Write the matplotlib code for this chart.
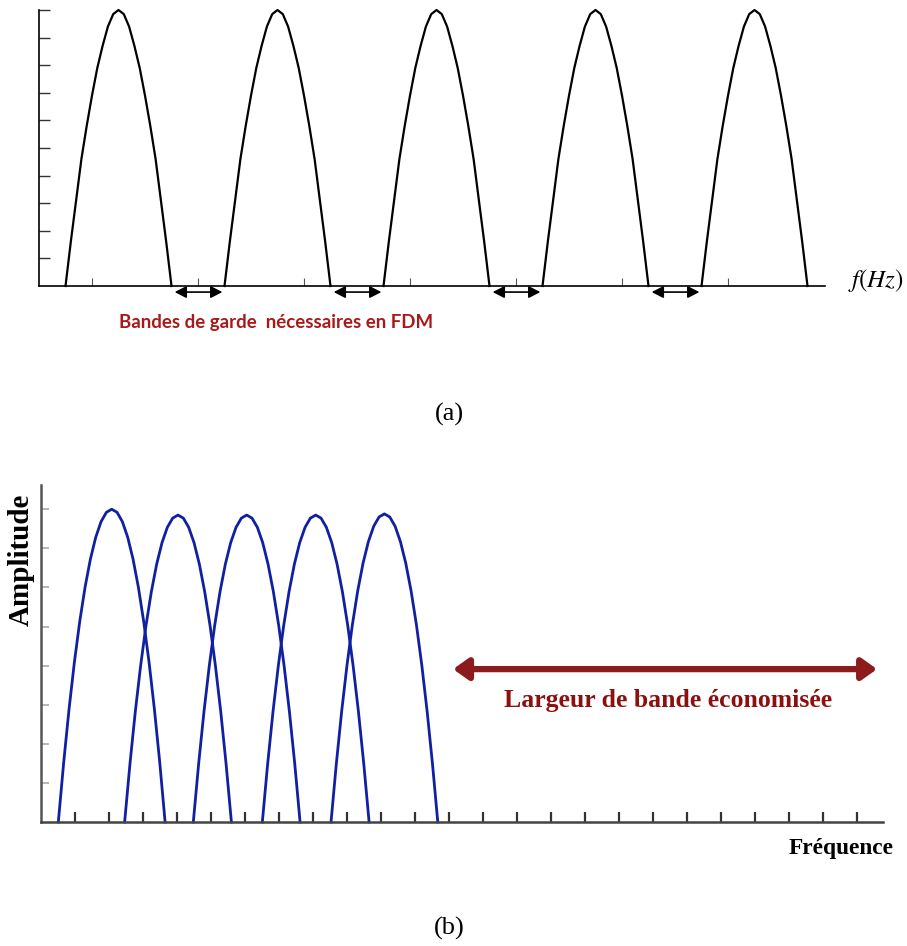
import matplotlib
matplotlib.use("Agg")
import matplotlib.pyplot as plt
import numpy as np

# DONNEES
# profil d'un lobe (demi-lobe), u = distance au centre / demi-largeur
profil_u = [0.0, 0.1, 0.2, 0.3, 0.4, 0.5, 0.6, 0.7, 0.8, 0.9, 1.0]
profil_fdm = [1.0, 0.985, 0.94, 0.87, 0.79, 0.69, 0.58, 0.46, 0.31, 0.16, 0.0]
profil_ofdm = [1.0, 0.99, 0.96, 0.91, 0.84, 0.75, 0.64, 0.51, 0.36, 0.19, 0.0]

# (a) FDM : centres des porteuses (en pas de graduation), demi-largeur, amplitude
centres_fdm = [1.25, 2.75, 4.25, 5.75, 7.25]
demi_largeur_fdm = 0.5
amplitudes_fdm = [1.0, 1.0, 1.0, 1.0, 1.0]

# (b) OFDM : centres, demi-largeur, amplitudes
centres_ofdm = [2.08, 4.03, 6.05, 8.08, 10.1]
demi_largeur_ofdm = 1.57
amplitudes_ofdm = [8.0, 7.85, 7.85, 7.85, 7.88]

# bande economisee (b)
bande_eco = [12.12, 24.59]
niveau_bande_eco = 3.91

W, H = 907, 946


def lobe(centre, demi, amp, profil):
    u = np.array(profil_u)
    p = np.array(profil)
    x = centre + np.concatenate([-u[::-1], u[1:]]) * demi
    y = amp * np.concatenate([p[::-1], p[1:]])
    return x, y


fig = plt.figure(figsize=(W / 100, H / 100), dpi=100)

# ---------- (a) ----------
ax1 = fig.add_axes([39 / W, 1 - 286 / H, (825 - 39) / W, 276 / H])
for c, a in zip(centres_fdm, amplitudes_fdm):
    x, y = lobe(c, demi_largeur_fdm, a, profil_fdm)
    ax1.plot(x, y, color="black", linewidth=1.6, clip_on=False)

ax1.set_xlim(0.5, 7.915)
ax1.set_ylim(0, 1)
for s in ["top", "right"]:
    ax1.spines[s].set_visible(False)
ax1.spines["left"].set_linewidth(1.2)
ax1.spines["bottom"].set_linewidth(1.2)
ax1.set_xticks(range(1, 8))
ax1.set_yticks(np.arange(1, 11) / 10)
ax1.tick_params(axis="x", direction="in", length=6, width=0.8, color="#555555", labelbottom=False)
ax1.tick_params(axis="y", direction="in", length=8, width=1.0, color="#333333", labelleft=False)

# bandes de garde
for i in range(len(centres_fdm) - 1):
    x0 = centres_fdm[i] + demi_largeur_fdm + 0.03
    x1 = centres_fdm[i + 1] - demi_largeur_fdm - 0.02
    ax1.annotate("", xy=(x1, -0.022), xytext=(x0, -0.022), annotation_clip=False,
                 arrowprops=dict(arrowstyle="<|-|>,head_length=0.35,head_width=0.18",
                                 color="black", lw=1.2, mutation_scale=20,
                                 shrinkA=0, shrinkB=0))

fig.text(276 / W, 1 - 322 / H, "Bandes de garde  nécessaires en FDM", color="#A8191A",
         fontsize=13.4, fontweight="bold", family="Lato", ha="center", va="center")
fig.text(876 / W, 1 - 280 / H, r"$f(Hz)$", fontsize=18, math_fontfamily="stix",
         ha="center", va="center")
fig.text(449 / W, 1 - 414 / H, "(a)", fontsize=19, family="Liberation Serif",
         ha="center", va="center")

# ---------- (b) ----------
ax2 = fig.add_axes([41 / W, 1 - 822 / H, (883 - 41) / W, 337 / H])
for c, a in zip(centres_ofdm, amplitudes_ofdm):
    x, y = lobe(c, demi_largeur_ofdm, a, profil_ofdm)
    ax2.plot(x, y, color="#1020A0", linewidth=2.0, clip_on=False)

ax2.set_xlim(0, (883 - 41) / 34)
ax2.set_ylim(0, 337 / 39.1)
for s in ["top", "right"]:
    ax2.spines[s].set_visible(False)
ax2.spines["left"].set_linewidth(1.8)
ax2.spines["left"].set_color("#555555")
ax2.spines["bottom"].set_linewidth(1.8)
ax2.spines["bottom"].set_color("#444444")
ax2.set_xticks(range(1, 25))
ax2.set_yticks(range(1, 9))
ax2.tick_params(axis="x", direction="in", length=7, width=1.6, color="#333333", labelbottom=False)
ax2.tick_params(axis="y", direction="in", length=6, width=1.2, color="#aaaaaa", labelleft=False)

ax2.annotate("", xy=(bande_eco[1], niveau_bande_eco), xytext=(bande_eco[0], niveau_bande_eco),
             annotation_clip=False,
             arrowprops=dict(arrowstyle="<|-|>,head_length=0.45,head_width=0.32",
                             color="#8E1B1B", lw=4.5, mutation_scale=20,
                             shrinkA=0, shrinkB=0))

fig.text(668 / W, 1 - 701 / H, "Largeur de bande économisée", color="#8B1010",
         fontsize=18.5, fontweight="bold", family="Liberation Serif", ha="center", va="center")
fig.text(841 / W, 1 - 848 / H, "Fréquence", color="black",
         fontsize=16.8, fontweight="bold", family="Liberation Serif", ha="center", va="center")
fig.text(21 / W, 1 - 560 / H, "Amplitude", color="black", rotation=90,
         fontsize=21, fontweight="bold", family="Liberation Serif", ha="center", va="center")
fig.text(449 / W, 1 - 928 / H, "(b)", fontsize=19, family="Liberation Serif",
         ha="center", va="center")

fig.savefig("out.png", dpi=100, facecolor="white")
